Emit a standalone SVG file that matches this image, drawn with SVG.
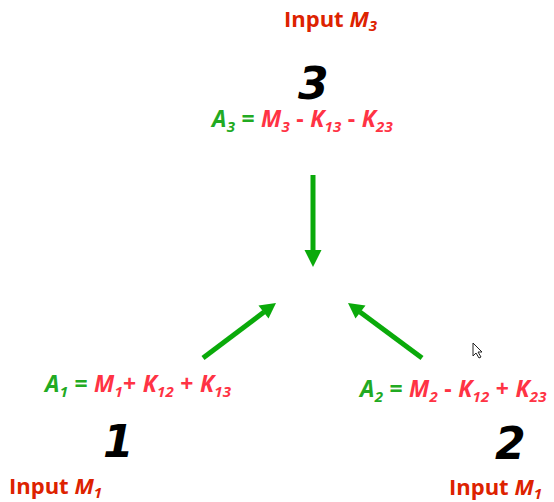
<svg xmlns="http://www.w3.org/2000/svg" width="554" height="502" viewBox="0 0 554 502">
<style>
text{font-family:"Open Sans","DejaVu Sans",sans-serif;font-weight:bold}
.inp{fill:#dd2200;font-size:22px}
.eq{font-size:23px;font-style:italic;letter-spacing:0.25px}
.g{fill:#22aa22}
.r{fill:#ff3344}
.op{font-style:normal}
.num{fill:#000;font-size:44px;font-style:italic;font-family:"DejaVu Sans",sans-serif}
.sub{font-size:15px}
.arr{stroke:#0aaa0a;stroke-width:5;fill:none}
.head{fill:#0aaa0a}
</style>
<rect width="554" height="502" fill="#fff"/>
<g id="node3">
<text class="inp" x="284" y="27">Input <tspan font-style="italic">M</tspan><tspan class="sub" font-style="italic" dy="4">3</tspan></text>
<text class="num" x="298" y="99">3</text>
<text class="eq" x="212" y="127"><tspan class="g">A</tspan><tspan class="g sub" dy="5">3</tspan><tspan class="g op" dy="-5"> = </tspan><tspan class="r">M</tspan><tspan class="r sub" dy="5">3</tspan><tspan class="r op" dy="-5"> - </tspan><tspan class="r">K</tspan><tspan class="r sub" dy="5">13</tspan><tspan class="r op" dy="-5"> - </tspan><tspan class="r">K</tspan><tspan class="r sub" dy="5">23</tspan></text>
</g>
<g id="node1">
<text class="eq" x="45" y="392"><tspan class="g">A</tspan><tspan class="g sub" dy="5">1</tspan><tspan class="g op" dy="-5"> = </tspan><tspan class="r">M</tspan><tspan class="r sub" dy="5">1</tspan><tspan class="r op" dy="-5">+ </tspan><tspan class="r">K</tspan><tspan class="r sub" dy="5">12</tspan><tspan class="r op" dy="-5"> + </tspan><tspan class="r">K</tspan><tspan class="r sub" dy="5">13</tspan></text>
<text class="num" x="103" y="457">1</text>
<text class="inp" x="9" y="494">Input <tspan font-style="italic">M</tspan><tspan class="sub" font-style="italic" dy="4">1</tspan></text>
</g>
<g id="node2">
<text class="eq" x="360" y="397"><tspan class="g">A</tspan><tspan class="g sub" dy="5">2</tspan><tspan class="g op" dy="-5"> = </tspan><tspan class="r">M</tspan><tspan class="r sub" dy="5">2</tspan><tspan class="r op" dy="-5"> - </tspan><tspan class="r">K</tspan><tspan class="r sub" dy="5">12</tspan><tspan class="r op" dy="-5"> + </tspan><tspan class="r">K</tspan><tspan class="r sub" dy="5">23</tspan></text>
<text class="num" x="495" y="459">2</text>
<text class="inp" x="449" y="495">Input <tspan font-style="italic">M</tspan><tspan class="sub" font-style="italic" dy="4">1</tspan></text>
</g>
<g id="connectors">
<line class="arr" x1="313" y1="175" x2="313" y2="252"/>
<polygon class="head" points="304.5,250 321.5,250 313,267"/>
<line class="arr" x1="203" y1="358" x2="264" y2="312"/>
<polygon class="head" points="276,303 258.5,305.5 268.5,318.5"/>
<line class="arr" x1="422" y1="358" x2="360" y2="312"/>
<polygon class="head" points="348,303 355.5,318.5 365.5,305.5"/>
</g>
<path d="M473,343 L473,356 L476,353 L479,358 L481,357 L478,352 L482,352 Z" fill="#fff" stroke="#222" stroke-width="1"/>
</svg>
